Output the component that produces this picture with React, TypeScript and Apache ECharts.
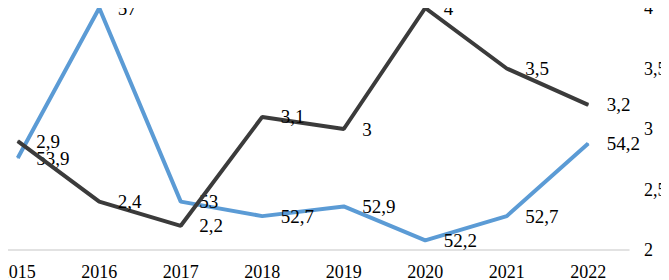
import React, { useEffect, useRef } from "react";
import * as echarts from "echarts";

const years = ["2015", "2016", "2017", "2018", "2019", "2020", "2021", "2022"];
const blueValues = [53.9, 57, 53, 52.7, 52.9, 52.2, 52.7, 54.2];
const grayValues = [2.9, 2.4, 2.2, 3.1, 3, 4, 3.5, 3.2];

const fmt = (v: number) => String(v).replace(".", ",");
const FONT = "Liberation Serif";

export default function App() {
  const ref = useRef<HTMLDivElement>(null);
  useEffect(() => {
    if (!ref.current) return;
    const chart = echarts.init(ref.current, undefined, { renderer: "svg" });
    const labelStyle = {
      show: true,
      position: "right" as const,
      distance: 18,
      offset: [0, 1],
      color: "#000",
      fontFamily: FONT,
      fontSize: 19,
      formatter: (p: any) => fmt(p.value),
    };
    chart.setOption({
      animation: false,
      textStyle: { fontFamily: FONT, fontSize: 18, color: "#000" },
      grid: { left: 27, right: 40, top: 8, bottom: 30, containLabel: false, outerBoundsMode: "none" },
      xAxis: {
        type: "category",
        data: years,
        boundaryGap: true,
        axisLine: { show: true, lineStyle: { color: "#d9d9d9", width: 1.5 } },
        axisTick: { show: false },
        axisLabel: { color: "#000", fontFamily: FONT, fontSize: 18, margin: 13, hideOverlap: false },
      },
      yAxis: [
        {
          type: "value",
          min: 52,
          max: 57,
          show: false,
          splitLine: { show: false },
        },
        {
          type: "value",
          position: "right",
          min: 2,
          max: 4,
          interval: 0.5,
          axisLine: { show: false },
          axisTick: { show: false },
          splitLine: { show: false },
          axisLabel: {
            color: "#000",
            fontFamily: FONT,
            fontSize: 18,
            margin: 15,
            formatter: (v: number) => fmt(v),
          },
        },
      ],
      series: [
        {
          type: "line",
          yAxisIndex: 0,
          data: blueValues,
          symbol: "circle",
          symbolSize: 1,
          showSymbol: true,
          lineStyle: { color: "#5B9BD5", width: 4 },
          itemStyle: { color: "#5B9BD5" },
          label: labelStyle,
          labelLayout: { hideOverlap: false },
          z: 2,
        },
        {
          type: "line",
          yAxisIndex: 1,
          data: grayValues,
          symbol: "circle",
          symbolSize: 1,
          showSymbol: true,
          lineStyle: { color: "#3b3b3b", width: 4 },
          itemStyle: { color: "#3b3b3b" },
          label: labelStyle,
          labelLayout: { hideOverlap: false },
          z: 3,
        },
      ],
    });
    return () => chart.dispose();
  }, []);
  return (
    <div style={{ margin: "-8px 0 0 -58px", width: 730, overflow: "visible" }}>
      <div ref={ref} style={{ width: 719, height: 280 }} />
    </div>
  );
}
